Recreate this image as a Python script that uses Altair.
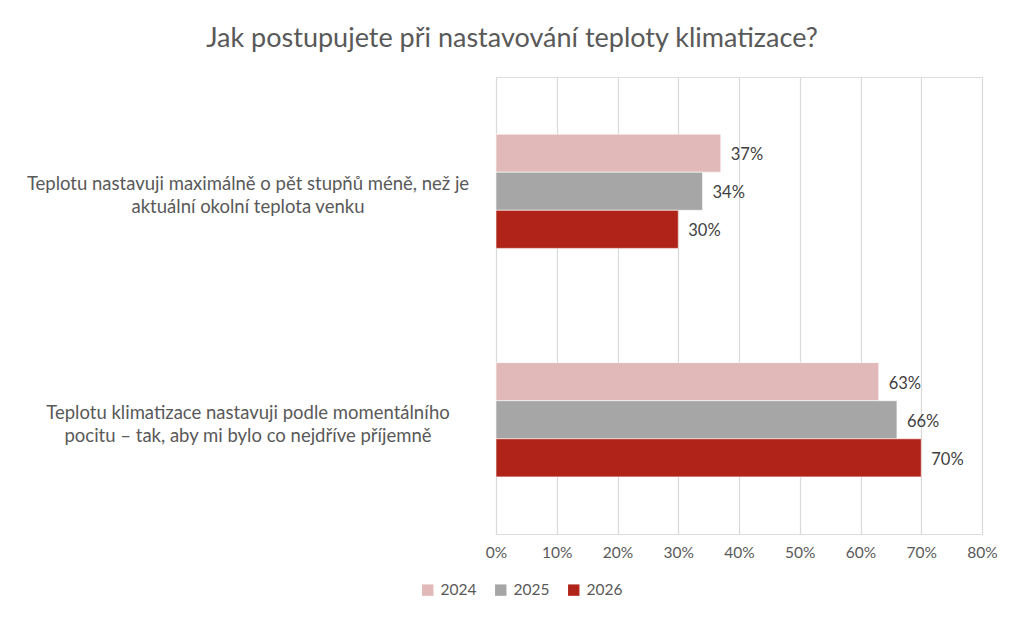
import altair as alt
import pandas as pd

categories = [
    "Teplotu nastavuji maximálně o pět stupňů méně, než je\naktuální okolní teplota venku",
    "Teplotu klimatizace nastavuji podle momentálního\npocitu – tak, aby mi bylo co nejdříve příjemně",
]
years = ["2024", "2025", "2026"]
values_2024 = [37, 63]
values_2025 = [34, 66]
values_2026 = [30, 70]
colors = ["#E1B9B9", "#A6A6A6", "#B02318"]
x_ticks = [0, 10, 20, 30, 40, 50, 60, 70, 80]

rows = []
for yr, vals in zip(years, [values_2024, values_2025, values_2026]):
    for c, v in zip(categories, vals):
        rows.append({"cat": c, "year": yr, "value": v})
df = pd.DataFrame(rows)

FONT = "Lato"

y_enc = alt.Y("cat:N", sort=categories, axis=None,
              scale=alt.Scale(paddingInner=0.5, paddingOuter=0.25))
yoff = alt.YOffset("year:N", sort=years, scale=alt.Scale(paddingInner=0, paddingOuter=0))

base = alt.Chart(df)

bars = base.mark_bar(stroke="white", strokeWidth=0.6).encode(
    x=alt.X("value:Q",
            scale=alt.Scale(domain=[0, 80], nice=False),
            axis=alt.Axis(values=x_ticks, labelExpr="datum.value + '%'", title=None,
                          grid=True, gridColor="#D9D9D9", gridWidth=1.2,
                          domain=False, ticks=False, labelPadding=11, labelFlush=False,
                          labelFontSize=15.5, labelColor="#595959", labelFont=FONT)),
    y=y_enc,
    yOffset=yoff,
    color=alt.Color("year:N", sort=years,
                    scale=alt.Scale(domain=years, range=colors),
                    legend=alt.Legend(title=None, orient="none", direction="horizontal",
                                      legendX=-76, legendY=505,
                                      symbolType="square", symbolSize=130,
                                      symbolStrokeWidth=0,
                                      labelFontSize=15.5, labelColor="#595959",
                                      labelFont=FONT, labelOffset=5, columnPadding=16)),
)

labels = base.mark_text(align="left", baseline="middle", dx=10, dy=2, fontSize=16.5,
                        color="#404040", font=FONT).encode(
    x="value:Q",
    y=y_enc,
    yOffset=yoff,
    text=alt.Text("label:N"),
).transform_calculate(label="datum.value + '%'")

cat_labels = alt.Chart(pd.DataFrame({"cat": categories})).mark_text(
    align="center", baseline="middle", lineBreak="\n", fontSize=18.5, lineHeight=23,
    dy=-7, color="#595959", font=FONT).encode(
    x=alt.value(-248),
    y=alt.Y("cat:N", sort=categories, axis=None,
            scale=alt.Scale(paddingInner=0.5, paddingOuter=0.25)),
    text="cat:N",
)

chart = alt.layer(bars, labels, cat_labels).properties(
    width=486,
    height=457,
    padding={"left": 488, "top": 69, "right": 34, "bottom": 80},
    autosize=alt.AutoSizeParams(type="none"),
    title=alt.TitleParams("Jak postupujete při nastavování teploty klimatizace?",
                          anchor="middle", dx=-227, offset=24, fontSize=27,
                          fontWeight="normal", color="#595959", font=FONT),
).configure_view(stroke=None).configure(background="white")

chart.save("out.html", embed_options={"renderer": "svg", "actions": False})
